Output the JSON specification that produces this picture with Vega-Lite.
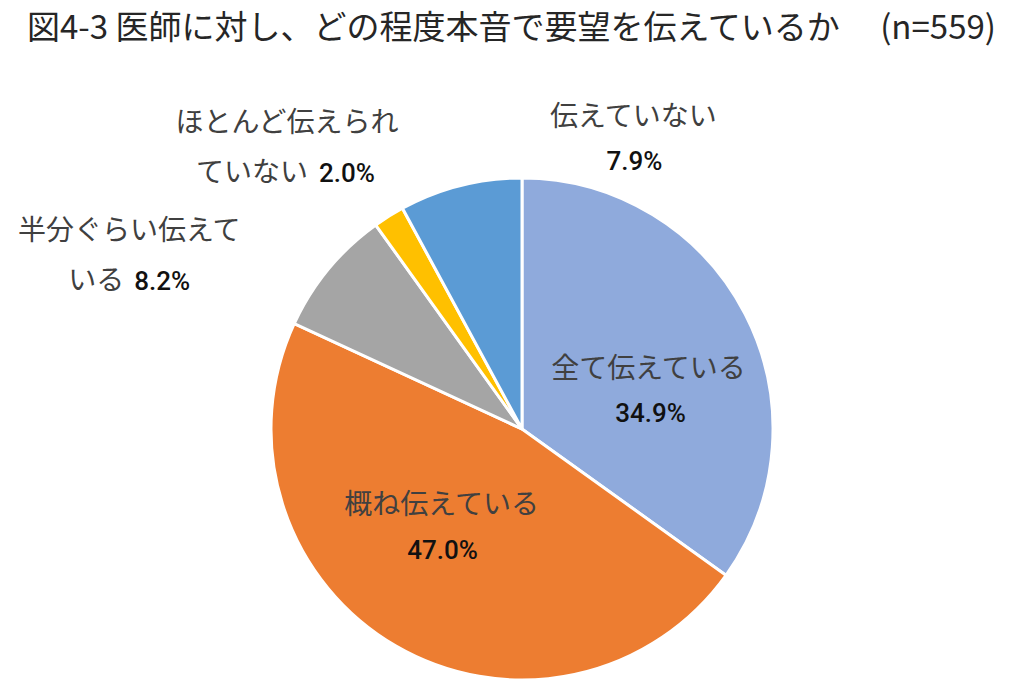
{
  "$schema": "https://vega.github.io/schema/vega-lite/v6.json",
  "width": 1000,
  "height": 538,
  "autosize": "none",
  "padding": {"left": 22, "top": 160, "right": 2, "bottom": 0},
  "background": "white",
  "title": {
    "text": "図4-3 医師に対し、どの程度本音で要望を伝えているか　  (n=559)",
    "anchor": "start",
    "frame": "group",
    "font": "Noto Sans CJK JP",
    "fontSize": 33,
    "fontWeight": "normal",
    "color": "#262626",
    "baseline": "alphabetic",
    "offset": -6,
    "dx": 5
  },
  "config": {"view": {"stroke": null}},
  "data": {
    "values": [
      {"key": "a", "name": "全て伝えている", "line1": "全て伝えている", "line2": "", "share": 0.349, "order": 1},
      {"key": "b", "name": "概ね伝えている", "line1": "概ね伝えている", "line2": "", "share": 0.470, "order": 2},
      {"key": "c", "name": "半分ぐらい伝えている", "line1": "半分ぐらい伝えて", "line2": "いる", "share": 0.082, "order": 3},
      {"key": "d", "name": "ほとんど伝えられていない", "line1": "ほとんど伝えられ", "line2": "ていない", "share": 0.020, "order": 4},
      {"key": "e", "name": "伝えていない", "line1": "伝えていない", "line2": "", "share": 0.079, "order": 5}
    ]
  },
  "encoding": {
    "theta": {"field": "share", "type": "quantitative", "stack": true},
    "order": {"field": "order", "type": "quantitative"}
  },
  "layer": [
    {
      "mark": {"type": "arc", "radius": 251, "stroke": "white", "strokeWidth": 3},
      "encoding": {
        "color": {
          "field": "name",
          "type": "nominal",
          "scale": {
            "domain": ["全て伝えている", "概ね伝えている", "半分ぐらい伝えている", "ほとんど伝えられていない", "伝えていない"],
            "range": ["#8FAADC", "#ED7D31", "#A5A5A5", "#FFC000", "#5B9BD5"]
          },
          "legend": null
        }
      }
    },
    {
      "mark": {"type": "text", "radius": 140, "dx": 2, "dy": 5, "font": "Noto Sans CJK JP", "fontSize": 28, "color": "#404040"},
      "encoding": {"text": {"condition": {"test": "datum.key === 'a'", "field": "line1"}, "value": ""}}
    },
    {
      "mark": {"type": "text", "radius": 140, "dx": 4, "dy": 49, "font": "Roboto", "fontSize": 26, "fontWeight": 500, "color": "#111111"},
      "encoding": {"text": {"condition": {"test": "datum.key === 'a'", "field": "share", "type": "quantitative", "format": ".1%"}, "value": ""}}
    },
    {
      "mark": {"type": "text", "radius": 100, "dx": -30, "dy": -9, "font": "Noto Sans CJK JP", "fontSize": 28, "color": "#404040"},
      "encoding": {"text": {"condition": {"test": "datum.key === 'b'", "field": "line1"}, "value": ""}}
    },
    {
      "mark": {"type": "text", "radius": 100, "dx": -29, "dy": 36, "font": "Roboto", "fontSize": 26, "fontWeight": 500, "color": "#111111"},
      "encoding": {"text": {"condition": {"test": "datum.key === 'b'", "field": "share", "type": "quantitative", "format": ".1%"}, "value": ""}}
    },
    {
      "mark": {"type": "text", "radius": 380, "dx": -100, "dy": 45, "font": "Noto Sans CJK JP", "fontSize": 28, "color": "#404040"},
      "encoding": {"text": {"condition": {"test": "datum.key === 'c'", "field": "line1"}, "value": ""}}
    },
    {
      "mark": {"type": "text", "radius": 380, "dx": -105, "dy": 95, "align": "right", "font": "Noto Sans CJK JP", "fontSize": 28, "color": "#404040"},
      "encoding": {"text": {"condition": {"test": "datum.key === 'c'", "field": "line2"}, "value": ""}}
    },
    {
      "mark": {"type": "text", "radius": 380, "dx": -95, "dy": 95, "align": "left", "font": "Roboto", "fontSize": 26, "fontWeight": 500, "color": "#111111"},
      "encoding": {"text": {"condition": {"test": "datum.key === 'c'", "field": "share", "type": "quantitative", "format": ".1%"}, "value": ""}}
    },
    {
      "mark": {"type": "text", "radius": 360, "dx": -44, "dy": 0, "font": "Noto Sans CJK JP", "fontSize": 28, "color": "#404040"},
      "encoding": {"text": {"condition": {"test": "datum.key === 'd'", "field": "line1"}, "value": ""}}
    },
    {
      "mark": {"type": "text", "radius": 360, "dx": -23, "dy": 50, "align": "right", "font": "Noto Sans CJK JP", "fontSize": 28, "color": "#404040"},
      "encoding": {"text": {"condition": {"test": "datum.key === 'd'", "field": "line2"}, "value": ""}}
    },
    {
      "mark": {"type": "text", "radius": 360, "dx": -12, "dy": 50, "align": "left", "font": "Roboto", "fontSize": 26, "fontWeight": 500, "color": "#111111"},
      "encoding": {"text": {"condition": {"test": "datum.key === 'd'", "field": "share", "type": "quantitative", "format": ".1%"}, "value": ""}}
    },
    {
      "mark": {"type": "text", "radius": 320, "dx": 190, "dy": -1, "font": "Noto Sans CJK JP", "fontSize": 28, "color": "#404040"},
      "encoding": {"text": {"condition": {"test": "datum.key === 'e'", "field": "line1"}, "value": ""}}
    },
    {
      "mark": {"type": "text", "radius": 320, "dx": 191, "dy": 43, "font": "Roboto", "fontSize": 26, "fontWeight": 500, "color": "#111111"},
      "encoding": {"text": {"condition": {"test": "datum.key === 'e'", "field": "share", "type": "quantitative", "format": ".1%"}, "value": ""}}
    }
  ]
}
